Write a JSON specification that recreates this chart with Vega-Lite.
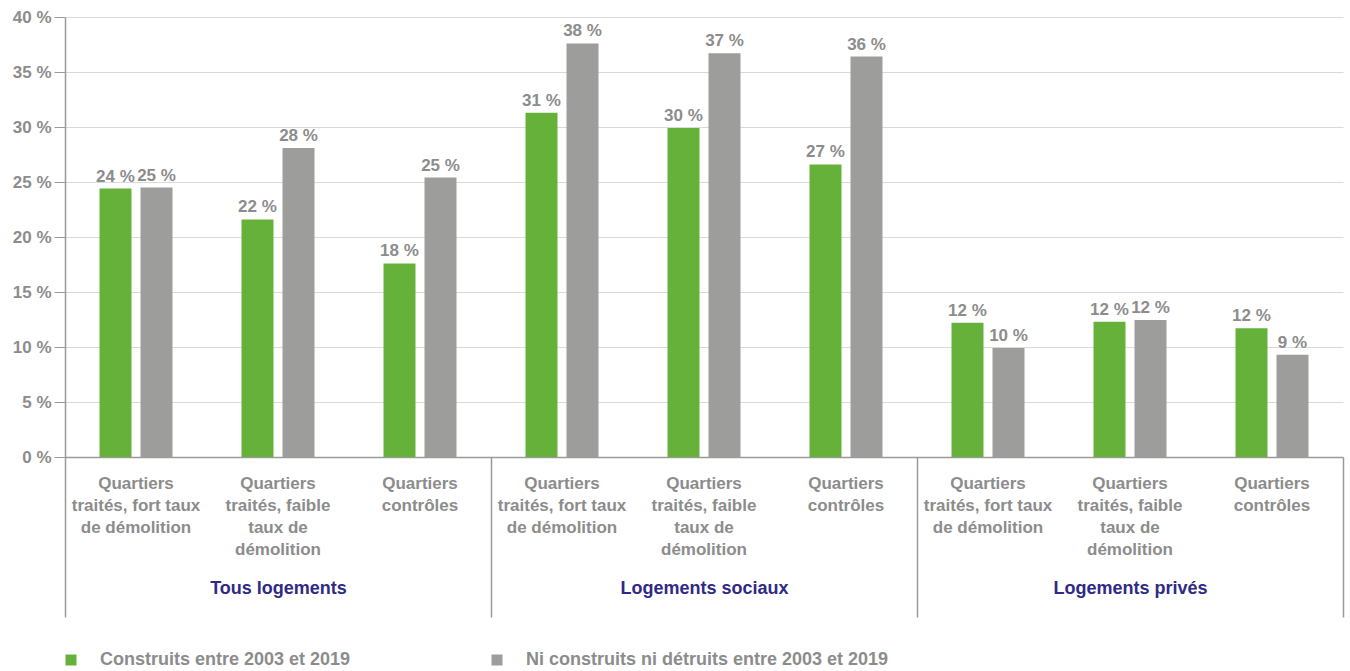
{
  "$schema": "https://vega.github.io/schema/vega-lite/v6.json",
  "width": 1278,
  "height": 440,
  "autosize": {"type": "none"},
  "padding": {"left": 65, "top": 17, "right": 7, "bottom": 214},
  "background": "white",
  "config": {
    "view": {"stroke": null},
    "font": "Liberation Sans",
    "axis": {"labelFont": "Liberation Sans", "titleFont": "Liberation Sans"},
    "legend": {"labelFont": "Liberation Sans"}
  },
  "datasets": {
    "bars": [
      {"cat": "1|Quartiers|traités, fort taux|de démolition", "series": "Construits entre 2003 et 2019", "value": 24.4, "label": "24 %"},
      {"cat": "1|Quartiers|traités, fort taux|de démolition", "series": "Ni construits ni détruits entre 2003 et 2019", "value": 24.5, "label": "25 %"},
      {"cat": "2|Quartiers|traités, faible|taux de|démolition", "series": "Construits entre 2003 et 2019", "value": 21.6, "label": "22 %"},
      {"cat": "2|Quartiers|traités, faible|taux de|démolition", "series": "Ni construits ni détruits entre 2003 et 2019", "value": 28.1, "label": "28 %"},
      {"cat": "3|Quartiers|contrôles", "series": "Construits entre 2003 et 2019", "value": 17.6, "label": "18 %"},
      {"cat": "3|Quartiers|contrôles", "series": "Ni construits ni détruits entre 2003 et 2019", "value": 25.4, "label": "25 %"},
      {"cat": "4|Quartiers|traités, fort taux|de démolition", "series": "Construits entre 2003 et 2019", "value": 31.3, "label": "31 %"},
      {"cat": "4|Quartiers|traités, fort taux|de démolition", "series": "Ni construits ni détruits entre 2003 et 2019", "value": 37.6, "label": "38 %"},
      {"cat": "5|Quartiers|traités, faible|taux de|démolition", "series": "Construits entre 2003 et 2019", "value": 29.9, "label": "30 %"},
      {"cat": "5|Quartiers|traités, faible|taux de|démolition", "series": "Ni construits ni détruits entre 2003 et 2019", "value": 36.7, "label": "37 %"},
      {"cat": "6|Quartiers|contrôles", "series": "Construits entre 2003 et 2019", "value": 26.6, "label": "27 %"},
      {"cat": "6|Quartiers|contrôles", "series": "Ni construits ni détruits entre 2003 et 2019", "value": 36.4, "label": "36 %"},
      {"cat": "7|Quartiers|traités, fort taux|de démolition", "series": "Construits entre 2003 et 2019", "value": 12.2, "label": "12 %"},
      {"cat": "7|Quartiers|traités, fort taux|de démolition", "series": "Ni construits ni détruits entre 2003 et 2019", "value": 9.9, "label": "10 %"},
      {"cat": "8|Quartiers|traités, faible|taux de|démolition", "series": "Construits entre 2003 et 2019", "value": 12.3, "label": "12 %"},
      {"cat": "8|Quartiers|traités, faible|taux de|démolition", "series": "Ni construits ni détruits entre 2003 et 2019", "value": 12.45, "label": "12 %"},
      {"cat": "9|Quartiers|contrôles", "series": "Construits entre 2003 et 2019", "value": 11.7, "label": "12 %"},
      {"cat": "9|Quartiers|contrôles", "series": "Ni construits ni détruits entre 2003 et 2019", "value": 9.3, "label": "9 %"}
    ],
    "groups": [
      {"group": "Tous logements"},
      {"group": "Logements sociaux"},
      {"group": "Logements privés"}
    ]
  },
  "layer": [
    {
      "data": {"name": "bars"},
      "encoding": {
        "x": {
          "field": "cat", "type": "nominal", "sort": null,
          "scale": {"paddingInner": 0.486, "paddingOuter": 0.243},
          "axis": {
            "orient": "bottom",
            "title": null,
            "ticks": false,
            "domainColor": "#9a9a9a",
            "domainWidth": 1.5,
            "labelAngle": 0,
            "labelFontSize": 17,
            "labelFontWeight": "bold",
            "labelColor": "#8c8c8c",
            "labelLineHeight": 22,
            "labelPadding": 18,
            "labelLimit": 300,
            "labelOverlap": false,
            "labelBound": false,
            "labelExpr": "slice(split(datum.label, '|'), 1)"
          }
        },
        "xOffset": {
          "field": "series", "type": "nominal", "sort": null,
          "scale": {"paddingInner": 0.22, "paddingOuter": 0}
        },
        "y": {
          "field": "value", "type": "quantitative",
          "scale": {"domain": [0, 40], "nice": false},
          "axis": {
            "title": null,
            "values": [0, 5, 10, 15, 20, 25, 30, 35, 40],
            "labelExpr": "datum.value + ' %'",
            "tickSize": 11,
            "tickColor": "#9a9a9a",
            "domainColor": "#9a9a9a",
            "domainWidth": 1.5,
            "gridColor": "#dadada",
            "labelFontSize": 17,
            "labelFontWeight": "bold",
            "labelColor": "#8c8c8c",
            "labelPadding": 3
          }
        }
      },
      "layer": [
        {
          "mark": {"type": "bar"},
          "encoding": {
            "color": {
              "field": "series", "type": "nominal", "sort": null,
              "scale": {
                "domain": ["Construits entre 2003 et 2019", "Ni construits ni détruits entre 2003 et 2019"],
                "range": ["#66b13a", "#9d9d9c"]
              },
              "legend": {
                "title": null,
                "orient": "none",
                "legendX": -3,
                "legendY": 634,
                "direction": "horizontal",
                "symbolType": "square",
                "symbolSize": 121,
                "symbolStrokeWidth": 0,
                "labelFontSize": 18,
                "labelFontWeight": "bold",
                "labelColor": "#8c8c8c",
                "labelOffset": 20,
                "columnPadding": 137,
                "labelLimit": 500
              }
            }
          }
        },
        {
          "mark": {
            "type": "text",
            "baseline": "alphabetic",
            "dy": -7,
            "fontSize": 17,
            "fontWeight": "bold",
            "color": "#8c8c8c"
          },
          "encoding": {"text": {"field": "label"}}
        }
      ]
    },
    {
      "data": {"name": "groups"},
      "mark": {"type": "point", "opacity": 0},
      "encoding": {
        "x": {
          "field": "group", "type": "nominal", "sort": null,
          "scale": {"paddingInner": 0, "paddingOuter": 0},
          "axis": {
            "orient": "bottom",
            "title": null,
            "domain": false,
            "grid": false,
            "tickBand": "extent",
            "tickSize": 160,
            "tickColor": "#9a9a9a",
            "tickWidth": 1.5,
            "labelAngle": 0,
            "labelPadding": -38,
            "labelFontSize": 18,
            "labelFontWeight": "bold",
            "labelColor": "#2e2a85",
            "labelLimit": 400
          }
        }
      }
    }
  ],
  "resolve": {"scale": {"x": "independent"}, "axis": {"x": "independent"}}
}
